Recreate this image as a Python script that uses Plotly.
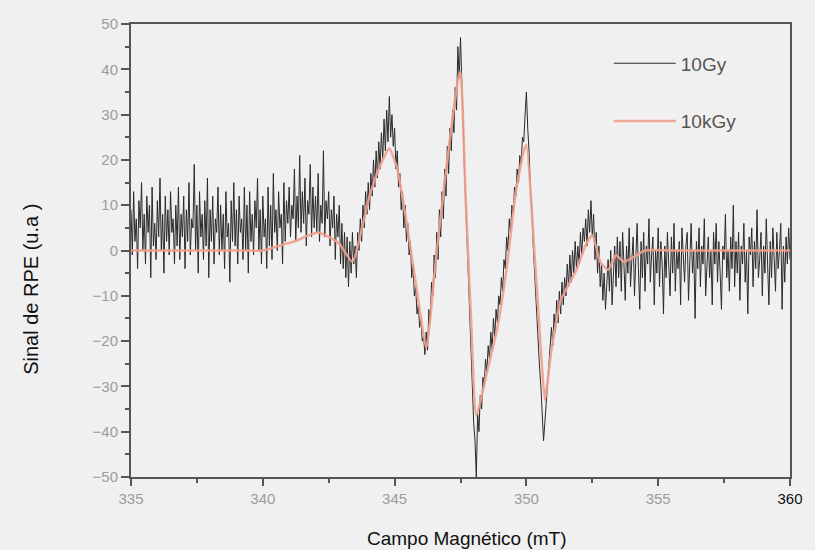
import plotly.graph_objects as go

# ---- data ----
field_start = 335.0
field_step = 0.05
signal_10gy = [
    # 335.0 - 342.95 baseline
    9, -1, 13, 2, 7, -4, 11, 5, 15, 0,
    8, -3, 12, 4, 10, -6, 14, 1, 6, -2,
    11, 3, 16, 0, 8, -5, 12, 2, 9, -1,
    13, 4, 7, -3, 10, 1, 14, -2, 8, 3,
    12, -4, 9, 2, 15, -1, 7, 5, 19, 0,
    10, -5, 13, 3, 8, -2, 11, 1, 16, -6,
    9, 2, 12, -3, 7, 4, 14, -1, 10, 0,
    8, -4, 13, 3, 6, -7, 11, 2, 15, 1,
    9, -3, 12, 4, 7, -2, 14, 0, 10, -5,
    13, 2, 8, -1, 11, 5, 16, 0, 9, -3,
    12, 3, 7, -4, 14, 1, 10, -2, 17, 4,
    9, 0, 13, 5, 8, -3, 15, 2, 11, 6,
    14, 3, 10, 7, 18, 2, 12, 5, 21, 4,
    13, 6, 16, 1, 11, 8, 19, 3, 14, 5,
    12, 4, 17, 2, 10, 6, 22, 3, 11, 7,
    13, 1, 9, 5, 12, -2, 8, 3, 10, -3,
    # 343.0 - 353.45 signal
    6, -4, 4, -6, 3, -8, 2, -5, 4, -3,
    1, -6, 4, 0, 7, 2, 10, 5, 13, 8,
    15, 9, 17, 12, 20, 14, 22, 16, 24, 18,
    26, 20, 29, 22, 31, 24, 34, 25, 30, 23,
    27, 18, 22, 14, 17, 9, 13, 5, 10, 2,
    6, -1, 2, -6, -3, -10, -8, -14, -12, -17,
    -15, -20, -19, -23, -18, -22, -13, -16, -7, -10,
    -1, -6, 4, -2, 9, 3, 13, 7, 18, 12,
    23, 17, 27, 22, 31, 26, 36, 31, 45, 38,
    47, 36, 26, 18, 10, 2, -8, -14, -24, -30,
    -38, -42, -50, -36, -40, -32, -35, -28, -30, -24,
    -27, -21, -24, -18, -22, -15, -19, -13, -16, -10,
    -12, -6, -9, -2, -4, 3, 0, 7, 4, 10,
    8, 14, 12, 18, 15, 21, 19, 25, 24, 30,
    35, 27, 22, 14, 10, 2, -4, -8, -16, -20,
    -26, -30, -36, -42, -38, -34, -28, -25, -22, -17,
    -21, -14, -18, -11, -16, -9, -14, -7, -12, -6,
    -10, -3, -8, -1, -7, 0, -5, 2, -4, 1,
    -3, 4, -1, 5, 2, 7, 1, 9, 4, 11,
    3, 8, -2, 4, -5, 1, -8, -3, -11, -5,
    -13, -6, -2, -9, 0, -12, -4, 1, -8, 3,
    # 353.5 - 360.0 baseline
    -6, 2, -9, 4, -3, -11, 1, -5, 5, -8,
    -2, 3, -10, 0, 6, -4, -13, 2, -6, 4,
    -9, 1, -3, 7, -7, -1, 3, -12, 0, -5,
    5, -8, 2, -3, -14, 1, -6, 4, -2, -10,
    3, -5, 6, -9, 0, -4, 2, -12, 5, -3,
    -7, 1, 4, -11, -2, 6, -5, 0, -15, 2,
    -4, 5, -8, 1, -3, 7, -10, -1, 3, -6,
    0, -12, 4, -3, 6, -7, 2, -5, -13, 1,
    -2, 8, -6, 0, -9, 3, -4, 10, -8, 2,
    -5, 4, -11, 1, -3, 6, -7, 0, -14, 3,
    -1, 5, -8, 2, -4, 9, -6, -2, 4, -10,
    1, -5, 7, -3, -12, 2, -6, 5, -1, -9,
    4, -4, 0, 6, -13, 1, -7, 3, -3, 5,
    -2,
]
field_10gy = [round(field_start + field_step * i, 3) for i in range(len(signal_10gy))]

field_10kgy = [335.0, 336.0, 337.0, 338.0, 339.0, 340.0, 340.6, 341.2, 341.8, 342.1,
               342.5, 342.9, 343.4, 344.0, 344.4, 344.8, 345.1, 345.5, 345.9, 346.2,
               346.6, 347.0, 347.4, 347.5, 347.7, 347.9, 348.1, 348.5, 348.9, 349.25,
               349.6, 349.9, 350.0, 350.3, 350.55, 350.7, 350.95, 351.3, 351.9, 352.25,
               352.5, 352.8, 353.1, 353.4, 353.7, 354.5, 355.5, 357.0, 358.5, 360.0]
signal_10kgy = [0, 0, 0, 0, 0, 0, 1, 2, 3.5, 4,
                3, 1.5, -2.5, 11, 18, 22.5, 18, 4.5, -11, -21.5,
                0, 20, 37.5, 39.5, 11, -15, -36.5, -27, -17, -4,
                13, 22, 23.3, 0, -22, -33, -22, -11, -4.3, 1.2,
                3.4, -2.5, -4.3, -1, -2.5, 0, 0, 0, 0, 0]

x_ticks = [335, 340, 345, 350, 355, 360]
x_ticktext = ["335", "340", "345", "350", "355",
              "<span style='color:#111111'>360</span>"]
y_ticks = [-50, -40, -30, -20, -10, 0, 10, 20, 30, 40, 50]

# ---- figure ----
fig = go.Figure()
fig.add_trace(go.Scatter(
    x=field_10gy, y=signal_10gy, mode="lines", name="10Gy",
    line=dict(color="#2a2a2a", width=1), legendgroup="a"))
fig.add_trace(go.Scatter(
    x=field_10kgy, y=signal_10kgy, mode="lines", name="10kGy",
    line=dict(color="#f2a08c", width=2.5, shape="spline", smoothing=0.5),
    opacity=0.9, legendgroup="b"))

axis_col = "#555555"
tick_font = dict(family="Liberation Sans, Arial", size=15, color="#9c9c9c")

fig.update_layout(
    width=815, height=550,
    margin=dict(l=131, r=19, t=24, b=73),
    paper_bgcolor="#f0f0f0", plot_bgcolor="#f0f0f0",
    showlegend=True,
    legend=dict(x=0.725, y=0.955, xanchor="left", yanchor="top",
                bgcolor="rgba(0,0,0,0)", tracegroupgap=30, itemwidth=62,
                font=dict(family="Liberation Sans, Arial", size=19, color="#555555")),
    xaxis=dict(range=[335, 360], tickvals=x_ticks, ticktext=x_ticktext,
               showgrid=False, zeroline=False, showline=True, linecolor=axis_col,
               linewidth=2, mirror=True, ticks="outside", ticklen=7, tickwidth=1.5,
               tickcolor=axis_col, tickfont=tick_font,
               minor=dict(dtick=2.5, tick0=335, ticks="outside", ticklen=4,
                          tickcolor=axis_col, showgrid=False)),
    yaxis=dict(range=[-50, 50], tickvals=y_ticks,
               showgrid=False, zeroline=False, showline=True, linecolor=axis_col,
               linewidth=2, mirror=True, ticks="outside", ticklen=8, tickwidth=1.5,
               tickcolor=axis_col, tickfont=tick_font,
               minor=dict(dtick=5, tick0=0, ticks="outside", ticklen=4,
                          tickcolor=axis_col, showgrid=False)),
    yaxis2=dict(range=[-50, 50], overlaying="y", side="right", tickvals=y_ticks,
                showticklabels=False, showgrid=False, zeroline=False,
                ticks="inside", ticklen=6, tickcolor=axis_col, tickwidth=1.5,
                minor=dict(dtick=5, tick0=0, ticks="inside", ticklen=4,
                           tickcolor=axis_col, showgrid=False)),
    annotations=[
        dict(text="Campo Magnético (mT)", x=0.51, y=-0.135, xref="paper", yref="paper",
             xanchor="center", yanchor="middle", showarrow=False,
             font=dict(family="Liberation Sans, Arial", size=19, color="#111111")),
        dict(text="Sinal de RPE (u.a )", x=-0.152, y=0.415, xref="paper", yref="paper",
             xanchor="center", yanchor="middle", showarrow=False, textangle=-90,
             font=dict(family="Liberation Sans, Arial", size=20, color="#111111")),
    ],
)

fig.write_html("out.html")
